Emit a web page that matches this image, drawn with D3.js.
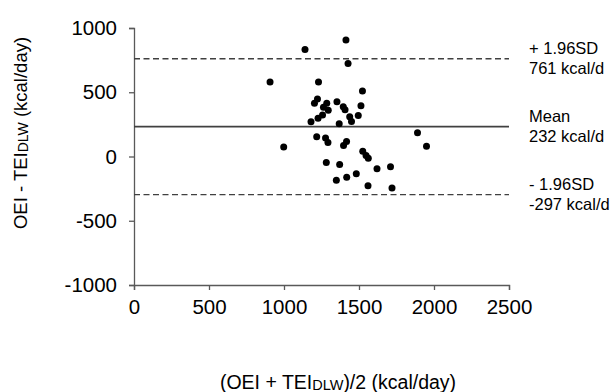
<!DOCTYPE html>
<html>
<head>
<meta charset="utf-8">
<script src="https://cdn.jsdelivr.net/npm/d3@7"></script>
<style>
html,body{margin:0;padding:0;background:#fff;}
svg{display:block;font-family:Arial,"Liberation Sans",sans-serif;}
</style>
</head>
<body>
<svg id="chart" width="613" height="392"></svg>
<script>
// Data: mean of the two methods (x) and difference (y), kcal/day
const meanValues = [1413,1140,1427,907,1230,1523,1223,1203,1285,1263,1295,1353,1395,1407,1513,1257,1227,1180,1368,1438,1450,1495,1218,1277,1293,1417,1397,998,1525,1547,1562,1282,1371,1482,1418,1349,1560,1890,1950,1620,1710,1720];
const diffValues = [906,832,724,580,580,510,447,414,414,383,359,427,387,363,395,323,297,271,254,309,272,320,154,143,109,117,86,73,41,8,-13,-47,-63,-135,-162,-185,-227,185,80,-95,-80,-245];
const xTicks = [0,500,1000,1500,2000,2500];
const yTicks = [-1000,-500,0,500,1000];
const refLines = [
  {value:761, dashed:true, label1:"+ 1.96SD", label2:"761 kcal/d"},
  {value:232, dashed:false, label1:"Mean", label2:"232 kcal/d"},
  {value:-297, dashed:true, label1:"- 1.96SD", label2:"-297 kcal/d"}
];

const svg = d3.select("#chart");
const x = d3.scaleLinear().domain([0,2500]).range([134,509]);
const y = d3.scaleLinear().domain([-1000,1000]).range([285,28]);
const axisColor = "#595959";
const fmt = d => String(d);

// axes
const xAxis = svg.append("g").attr("transform","translate(0,"+y(-1000)+")")
  .call(d3.axisBottom(x).tickValues(xTicks).tickSize(5).tickPadding(7).tickFormat(fmt));
const yAxis = svg.append("g").attr("transform","translate("+x(0)+",0)")
  .call(d3.axisLeft(y).tickValues(yTicks).tickSize(5).tickPadding(12).tickFormat(fmt));
[xAxis,yAxis].forEach(g=>{
  g.select(".domain").attr("stroke",axisColor).attr("stroke-width",1.3);
  g.selectAll(".tick line").attr("stroke",axisColor).attr("stroke-width",1.3);
  g.selectAll(".tick text").attr("fill","#000").attr("font-size",20.5).attr("font-family","Arial, 'Liberation Sans', sans-serif");
});
xAxis.selectAll(".tick text").attr("dy","0.85em");

// reference lines
svg.append("g").selectAll("line").data(refLines).join("line")
  .attr("x1",x(0)).attr("x2",x(2500))
  .attr("y1",d=>y(d.value)).attr("y2",d=>y(d.value))
  .attr("stroke","#404040")
  .attr("stroke-width",d=>d.dashed?1.4:1.8)
  .attr("stroke-dasharray",d=>d.dashed?"6,3.5":null);

const lab = svg.append("g").attr("font-size",16.5).attr("fill","#000");
refLines.forEach(d=>{
  lab.append("text").attr("x",529).attr("y",y(d.value)-5).text(d.label1);
  lab.append("text").attr("x",529).attr("y",y(d.value)+15).text(d.label2);
});

// points
svg.append("g").selectAll("circle").data(meanValues.map((m,i)=>[m,diffValues[i]])).join("circle")
  .attr("cx",d=>x(d[0])).attr("cy",d=>y(d[1])).attr("r",3.5).attr("fill","#000");

// axis titles
const yt = svg.append("text").attr("transform","translate(27,133) rotate(-90)")
  .attr("text-anchor","middle").attr("font-size",18.5).attr("fill","#000");
yt.append("tspan").text("OEI - TEI");
yt.append("tspan").attr("font-size",14).attr("dy",1).text("DLW");
yt.append("tspan").attr("dy",-1).text(" (kcal/day)");

const xt = svg.append("text").attr("x",338).attr("y",389)
  .attr("text-anchor","middle").attr("font-size",19.5).attr("fill","#000");
xt.append("tspan").text("(OEI + TEI");
xt.append("tspan").attr("font-size",14.5).attr("dy",1).text("DLW");
xt.append("tspan").attr("dy",-1).text(")/2 (kcal/day)");
</script>
</body>
</html>
